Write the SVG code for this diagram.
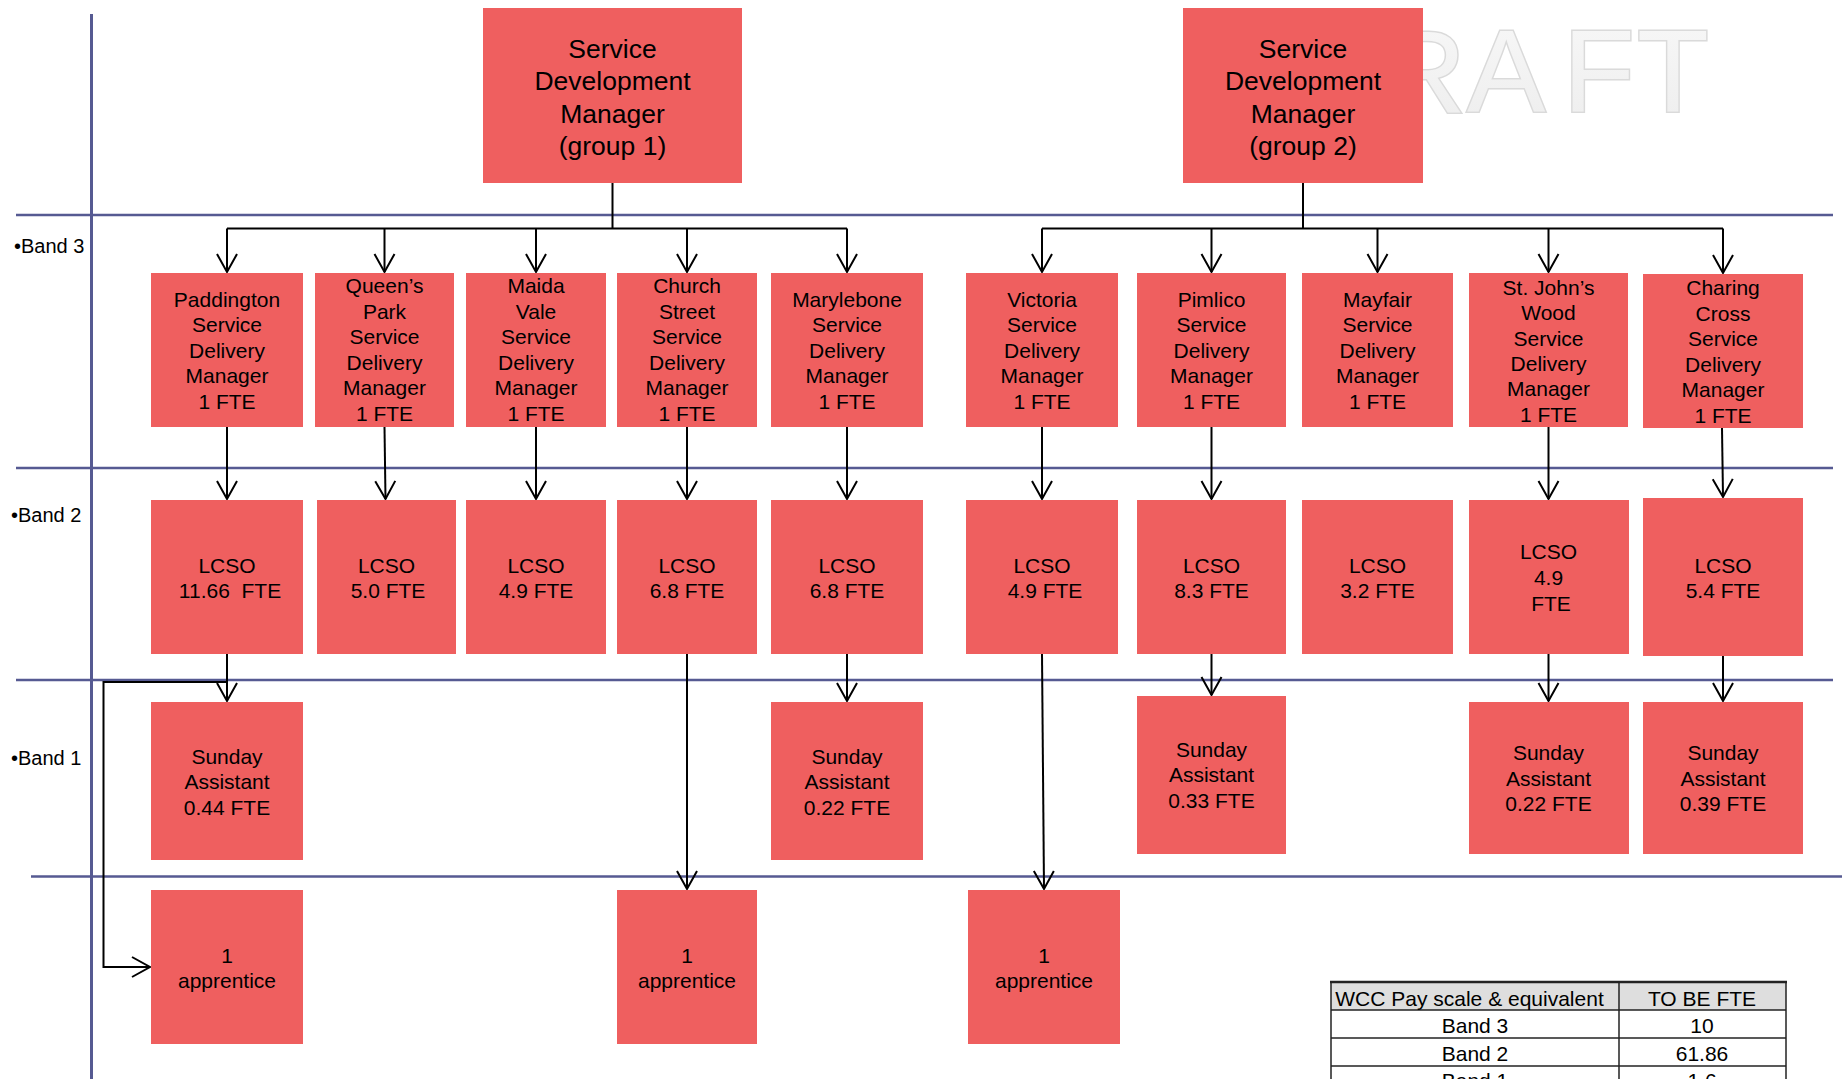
<svg xmlns="http://www.w3.org/2000/svg" width="1842" height="1079" viewBox="0 0 1842 1079">
<style>
  .box { fill: #EF5F5F; }
  .t { font-family: "Liberation Sans", Arial, sans-serif; font-size: 21px; text-anchor: middle; fill: #000; }
  .big { font-size: 26.5px; }
  .lbl { font-family: "Liberation Sans", Arial, sans-serif; font-size: 20px; fill: #000; }
  .band { stroke: #565A92; stroke-width: 2.5; fill: none; }
  .axis { stroke: #565A92; stroke-width: 3; fill: none; }
  .conn path { stroke: #000; stroke-width: 2; fill: none; }
  .arr { marker-end: url(#arr); }
  .tbl { font-family: "Liberation Sans", Arial, sans-serif; font-size: 21px; text-anchor: middle; fill: #000; }
  .grid { stroke: #222; stroke-width: 1.5; fill: none; }
</style>
<defs>
  <marker id="arr" markerWidth="20" markerHeight="22" refX="19" refY="11" orient="auto" markerUnits="userSpaceOnUse" viewBox="0 0 20 22" overflow="visible">
    <path d="M1,1 L19,11 L1,21" fill="none" stroke="#000" stroke-width="2"/>
  </marker>
  <linearGradient id="wm" x1="0" y1="0" x2="0" y2="1">
    <stop offset="0" stop-color="#f8f8f8"/>
    <stop offset="1" stop-color="#ededed"/>
  </linearGradient>
</defs>
<rect width="1842" height="1079" fill="#fff"/>

<!-- watermark -->
<g id="watermark">
  <text x="1381 1467 1563 1637" y="111.7" font-family="Liberation Sans, Arial, sans-serif" font-size="117.5" fill="url(#wm)" stroke="#dadada" stroke-width="3" paint-order="stroke">RAFT</text>
</g>

<!-- band grid -->
<g id="bands">
  <line class="axis" x1="91.5" y1="14" x2="91.5" y2="1079"/>
  <line class="band" x1="16" y1="215" x2="1833" y2="215"/>
  <line class="band" x1="16" y1="468" x2="1833" y2="468"/>
  <line class="band" x1="16" y1="680" x2="1833" y2="680"/>
  <line class="band" x1="31" y1="876.5" x2="1842" y2="876.5"/>
  <text class="lbl" x="14" y="252.5">•Band 3</text>
  <text class="lbl" x="11" y="522">•Band 2</text>
  <text class="lbl" x="11" y="765">•Band 1</text>
</g>

<!-- connectors -->
<g id="connectors" class="conn">
  <path d="M612.5,183 V228.5"/>
  <path d="M227,228.5 H847"/>
  <path class="arr" d="M227,228.5 V272"/>
  <path class="arr" d="M384.5,228.5 V272"/>
  <path class="arr" d="M536,228.5 V272"/>
  <path class="arr" d="M687,228.5 V272"/>
  <path class="arr" d="M847,228.5 V272"/>
  <path d="M1303,183 V228.5"/>
  <path d="M1042,228.5 H1723"/>
  <path class="arr" d="M1042,228.5 V272"/>
  <path class="arr" d="M1211.5,228.5 V272"/>
  <path class="arr" d="M1377.5,228.5 V272"/>
  <path class="arr" d="M1548.5,228.5 V272"/>
  <path class="arr" d="M1723,228.5 V273"/>

  <path class="arr" d="M227,427 V499"/>
  <path class="arr" d="M384.5,427 L385.5,499"/>
  <path class="arr" d="M536,427 V499"/>
  <path class="arr" d="M687,427 V499"/>
  <path class="arr" d="M847,427 V499"/>
  <path class="arr" d="M1042,427 V499"/>
  <path class="arr" d="M1211.5,427 V499"/>
  <path class="arr" d="M1548.5,427 V499"/>
  <path class="arr" d="M1722,428 L1723,497"/>

  <path class="arr" d="M227,654 V701"/>
  <path class="arr" d="M847,654 V701"/>
  <path class="arr" d="M1211.5,654 V695"/>
  <path class="arr" d="M1548.5,654 V701"/>
  <path class="arr" d="M1723,656 V701"/>

  <path class="arr" d="M687,654 V889"/>
  <path class="arr" d="M1042,654 L1044,889"/>
  <path class="arr" d="M227,682 H103.5 V967 H150"/>
</g>

<!-- top managers -->
<g id="sdm1">
  <rect class="box" x="483" y="8" width="259" height="175"/>
  <text class="t big" x="612.5" y="57.5">Service</text>
  <text class="t big" x="612.5" y="90">Development</text>
  <text class="t big" x="612.5" y="122.5">Manager</text>
  <text class="t big" x="612.5" y="155">(group 1)</text>
</g>
<g id="sdm2">
  <rect class="box" x="1183" y="8" width="240" height="175"/>
  <text class="t big" x="1303" y="57.5">Service</text>
  <text class="t big" x="1303" y="90">Development</text>
  <text class="t big" x="1303" y="122.5">Manager</text>
  <text class="t big" x="1303" y="155">(group 2)</text>
</g>

<!-- band 3 -->
<g id="sdm-paddington">
  <rect class="box" x="151" y="273" width="152" height="154"/>
  <text class="t" x="227" y="306.5">Paddington</text>
  <text class="t" x="227" y="332">Service</text>
  <text class="t" x="227" y="357.5">Delivery</text>
  <text class="t" x="227" y="383">Manager</text>
  <text class="t" x="227" y="408.5">1 FTE</text>
</g>
<g id="sdm-queens-park">
  <rect class="box" x="315" y="273" width="139" height="154"/>
  <text class="t" x="384.5" y="293">Queen’s</text>
  <text class="t" x="384.5" y="318.5">Park</text>
  <text class="t" x="384.5" y="344">Service</text>
  <text class="t" x="384.5" y="369.5">Delivery</text>
  <text class="t" x="384.5" y="395">Manager</text>
  <text class="t" x="384.5" y="420.5">1 FTE</text>
</g>
<g id="sdm-maida-vale">
  <rect class="box" x="466" y="273" width="140" height="154"/>
  <text class="t" x="536" y="293">Maida</text>
  <text class="t" x="536" y="318.5">Vale</text>
  <text class="t" x="536" y="344">Service</text>
  <text class="t" x="536" y="369.5">Delivery</text>
  <text class="t" x="536" y="395">Manager</text>
  <text class="t" x="536" y="420.5">1 FTE</text>
</g>
<g id="sdm-church-street">
  <rect class="box" x="617" y="273" width="140" height="154"/>
  <text class="t" x="687" y="293">Church</text>
  <text class="t" x="687" y="318.5">Street</text>
  <text class="t" x="687" y="344">Service</text>
  <text class="t" x="687" y="369.5">Delivery</text>
  <text class="t" x="687" y="395">Manager</text>
  <text class="t" x="687" y="420.5">1 FTE</text>
</g>
<g id="sdm-marylebone">
  <rect class="box" x="771" y="273" width="152" height="154"/>
  <text class="t" x="847" y="306.5">Marylebone</text>
  <text class="t" x="847" y="332">Service</text>
  <text class="t" x="847" y="357.5">Delivery</text>
  <text class="t" x="847" y="383">Manager</text>
  <text class="t" x="847" y="408.5">1 FTE</text>
</g>
<g id="sdm-victoria">
  <rect class="box" x="966" y="273" width="152" height="154"/>
  <text class="t" x="1042" y="306.5">Victoria</text>
  <text class="t" x="1042" y="332">Service</text>
  <text class="t" x="1042" y="357.5">Delivery</text>
  <text class="t" x="1042" y="383">Manager</text>
  <text class="t" x="1042" y="408.5">1 FTE</text>
</g>
<g id="sdm-pimlico">
  <rect class="box" x="1137" y="273" width="149" height="154"/>
  <text class="t" x="1211.5" y="306.5">Pimlico</text>
  <text class="t" x="1211.5" y="332">Service</text>
  <text class="t" x="1211.5" y="357.5">Delivery</text>
  <text class="t" x="1211.5" y="383">Manager</text>
  <text class="t" x="1211.5" y="408.5">1 FTE</text>
</g>
<g id="sdm-mayfair">
  <rect class="box" x="1302" y="273" width="151" height="154"/>
  <text class="t" x="1377.5" y="306.5">Mayfair</text>
  <text class="t" x="1377.5" y="332">Service</text>
  <text class="t" x="1377.5" y="357.5">Delivery</text>
  <text class="t" x="1377.5" y="383">Manager</text>
  <text class="t" x="1377.5" y="408.5">1 FTE</text>
</g>
<g id="sdm-st-johns-wood">
  <rect class="box" x="1469" y="273" width="159" height="154"/>
  <text class="t" x="1548.5" y="295">St. John’s</text>
  <text class="t" x="1548.5" y="320.3">Wood</text>
  <text class="t" x="1548.5" y="345.6">Service</text>
  <text class="t" x="1548.5" y="370.9">Delivery</text>
  <text class="t" x="1548.5" y="396.2">Manager</text>
  <text class="t" x="1548.5" y="421.5">1 FTE</text>
</g>
<g id="sdm-charing-cross">
  <rect class="box" x="1643" y="274" width="160" height="154"/>
  <text class="t" x="1723" y="295">Charing</text>
  <text class="t" x="1723" y="320.5">Cross</text>
  <text class="t" x="1723" y="346">Service</text>
  <text class="t" x="1723" y="371.5">Delivery</text>
  <text class="t" x="1723" y="397">Manager</text>
  <text class="t" x="1723" y="422.5">1 FTE</text>
</g>

<!-- band 2 -->
<g id="lcso-paddington">
  <rect class="box" x="151" y="500" width="152" height="154"/>
  <text class="t" x="227" y="572.5">LCSO</text>
  <text class="t" x="230" y="598" xml:space="preserve">11.66  FTE</text>
</g>
<g id="lcso-queens-park">
  <rect class="box" x="317" y="500" width="139" height="154"/>
  <text class="t" x="386.5" y="572.5">LCSO</text>
  <text class="t" x="388" y="598">5.0 FTE</text>
</g>
<g id="lcso-maida-vale">
  <rect class="box" x="466" y="500" width="140" height="154"/>
  <text class="t" x="536" y="572.5">LCSO</text>
  <text class="t" x="536" y="598">4.9 FTE</text>
</g>
<g id="lcso-church-street">
  <rect class="box" x="617" y="500" width="140" height="154"/>
  <text class="t" x="687" y="572.5">LCSO</text>
  <text class="t" x="687" y="598">6.8 FTE</text>
</g>
<g id="lcso-marylebone">
  <rect class="box" x="771" y="500" width="152" height="154"/>
  <text class="t" x="847" y="572.5">LCSO</text>
  <text class="t" x="847" y="598">6.8 FTE</text>
</g>
<g id="lcso-victoria">
  <rect class="box" x="966" y="500" width="152" height="154"/>
  <text class="t" x="1042" y="572.5">LCSO</text>
  <text class="t" x="1045" y="598">4.9 FTE</text>
</g>
<g id="lcso-pimlico">
  <rect class="box" x="1137" y="500" width="149" height="154"/>
  <text class="t" x="1211.5" y="572.5">LCSO</text>
  <text class="t" x="1211.5" y="598">8.3 FTE</text>
</g>
<g id="lcso-mayfair">
  <rect class="box" x="1302" y="500" width="151" height="154"/>
  <text class="t" x="1377.5" y="572.5">LCSO</text>
  <text class="t" x="1377.5" y="598">3.2 FTE</text>
</g>
<g id="lcso-st-johns-wood">
  <rect class="box" x="1469" y="500" width="160" height="154"/>
  <text class="t" x="1548.5" y="559">LCSO</text>
  <text class="t" x="1548.5" y="585">4.9</text>
  <text class="t" x="1551" y="610.5">FTE</text>
</g>
<g id="lcso-charing-cross">
  <rect class="box" x="1643" y="498" width="160" height="158"/>
  <text class="t" x="1723" y="572.5">LCSO</text>
  <text class="t" x="1723" y="598">5.4 FTE</text>
</g>

<!-- band 1 -->
<g id="sunday-paddington">
  <rect class="box" x="151" y="702" width="152" height="158"/>
  <text class="t" x="227" y="764">Sunday</text>
  <text class="t" x="227" y="789.3">Assistant</text>
  <text class="t" x="227" y="814.6">0.44 FTE</text>
</g>
<g id="sunday-marylebone">
  <rect class="box" x="771" y="702" width="152" height="158"/>
  <text class="t" x="847" y="764">Sunday</text>
  <text class="t" x="847" y="789.3">Assistant</text>
  <text class="t" x="847" y="814.6">0.22 FTE</text>
</g>
<g id="sunday-pimlico">
  <rect class="box" x="1137" y="696" width="149" height="158"/>
  <text class="t" x="1211.5" y="756.7">Sunday</text>
  <text class="t" x="1211.5" y="782">Assistant</text>
  <text class="t" x="1211.5" y="807.5">0.33 FTE</text>
</g>
<g id="sunday-st-johns-wood">
  <rect class="box" x="1469" y="702" width="160" height="152"/>
  <text class="t" x="1548.5" y="760">Sunday</text>
  <text class="t" x="1548.5" y="785.5">Assistant</text>
  <text class="t" x="1548.5" y="811">0.22 FTE</text>
</g>
<g id="sunday-charing-cross">
  <rect class="box" x="1643" y="702" width="160" height="152"/>
  <text class="t" x="1723" y="760">Sunday</text>
  <text class="t" x="1723" y="785.5">Assistant</text>
  <text class="t" x="1723" y="811">0.39 FTE</text>
</g>

<!-- apprentices -->
<g id="apprentice-paddington">
  <rect class="box" x="151" y="890" width="152" height="154"/>
  <text class="t" x="227" y="962.5">1</text>
  <text class="t" x="227" y="987.5">apprentice</text>
</g>
<g id="apprentice-church-street">
  <rect class="box" x="617" y="890" width="140" height="154"/>
  <text class="t" x="687" y="962.5">1</text>
  <text class="t" x="687" y="987.5">apprentice</text>
</g>
<g id="apprentice-victoria">
  <rect class="box" x="968" y="890" width="152" height="154"/>
  <text class="t" x="1044" y="962.5">1</text>
  <text class="t" x="1044" y="987.5">apprentice</text>
</g>

<!-- table -->
<g id="fte-table">
  <rect x="1331" y="982" width="455" height="28" fill="#dedede"/>
  <rect x="1331" y="1010" width="455" height="69" fill="#fff"/>
  <line class="grid" x1="1331" y1="982" x2="1331" y2="1079"/>
  <line class="grid" x1="1619" y1="982" x2="1619" y2="1079"/>
  <line class="grid" x1="1786" y1="982" x2="1786" y2="1079"/>
  <line x1="1330" y1="982" x2="1787" y2="982" stroke="#222" stroke-width="2.5"/>
  <line class="grid" x1="1331" y1="1010" x2="1786" y2="1010"/>
  <line class="grid" x1="1331" y1="1038" x2="1786" y2="1038"/>
  <line class="grid" x1="1331" y1="1066" x2="1786" y2="1066"/>
  <text class="tbl" x="1469.5" y="1005.5">WCC Pay scale &amp; equivalent</text>
  <text class="tbl" x="1702" y="1005.5">TO BE FTE</text>
  <text class="tbl" x="1475" y="1033">Band 3</text>
  <text class="tbl" x="1702" y="1033">10</text>
  <text class="tbl" x="1475" y="1060.5">Band 2</text>
  <text class="tbl" x="1702" y="1060.5">61.86</text>
  <text class="tbl" x="1475" y="1088">Band 1</text>
  <text class="tbl" x="1702" y="1088">1.6</text>
</g>
</svg>
